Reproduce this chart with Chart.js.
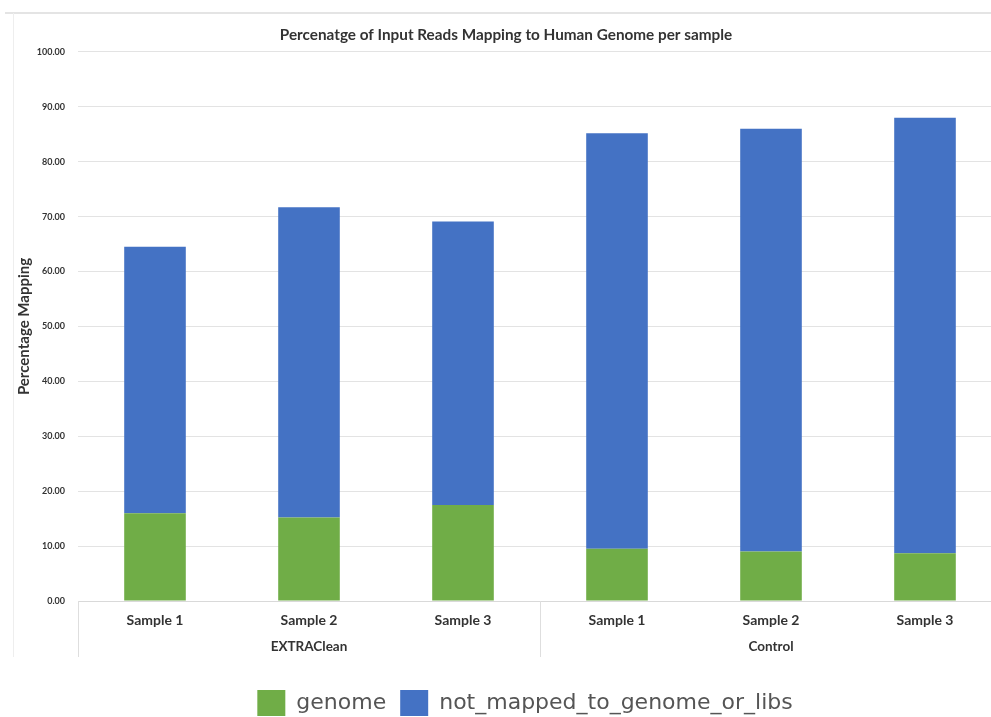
<!DOCTYPE html>
<html>
<head>
<meta charset="utf-8">
<script src="https://cdn.jsdelivr.net/npm/chart.js@4/dist/chart.umd.min.js"></script>
<style>
  html, body { margin: 0; padding: 0; background: #ffffff; }
  #wrap { width: 991px; height: 717px; overflow: hidden; position: relative; }
  #chart { display: block; }
</style>
</head>
<body>
<div id="wrap"><canvas id="chart" width="1012" height="726"></canvas></div>
<script>
// Sample names along the axis, two groups of three
const categories = ['Sample 1', 'Sample 2', 'Sample 3', 'Sample 1', 'Sample 2', 'Sample 3'];
// Group captions, each shown under the middle sample of its group
const groupLabels = ['', 'EXTRAClean', '', '', 'Control', ''];
// Percent of input reads per sample
const genome = [16.0, 15.2, 17.5, 9.5, 9.0, 8.7];
const notMapped = [48.5, 56.5, 51.6, 75.7, 77.0, 79.3];
// Value axis ticks
const yTicks = [0, 10, 20, 30, 40, 50, 60, 70, 80, 90, 100];

const GREEN = '#70AD47';
const BLUE = '#4472C4';
const TEXT = '#333333';
const FONT = 'Lato, "Open Sans", sans-serif';

// Light frame around the plot and the group separators under the axis
const frameAndGroups = {
  id: 'frameAndGroups',
  afterLayout(chart) {
    // the legend row sits a little right of the plot's centre
    if (chart.legend) {
      chart.legend.left += 19;
      chart.legend.right += 19;
    }
  },
  beforeDraw(chart) {
    const ctx = chart.ctx;
    ctx.save();
    ctx.strokeStyle = '#e4e4e4';
    ctx.lineWidth = 2;
    ctx.beginPath();
    ctx.moveTo(5, 13); ctx.lineTo(chart.width, 13);
    ctx.stroke();
    ctx.strokeStyle = '#eeeeee';
    ctx.lineWidth = 1;
    ctx.beginPath();
    ctx.moveTo(13.5, 13); ctx.lineTo(13.5, 657);
    ctx.stroke();
    ctx.restore();
  },
  afterDraw(chart) {
    const ctx = chart.ctx;
    const x = chart.scales.x;
    const area = chart.chartArea;
    const xs = [x.getPixelForValue(-0.5), x.getPixelForValue(2.5), x.getPixelForValue(5.5)];
    ctx.save();
    ctx.strokeStyle = '#dedede';
    ctx.lineWidth = 1;
    xs.forEach(px => {
      ctx.beginPath();
      ctx.moveTo(Math.round(px) + 0.5, area.bottom);
      ctx.lineTo(Math.round(px) + 0.5, 657);
      ctx.stroke();
    });
    ctx.restore();
  }
};

new Chart(document.getElementById('chart'), {
  type: 'bar',
  data: {
    labels: categories,
    datasets: [
      { label: 'genome', data: genome, backgroundColor: GREEN, borderWidth: 0,
        barPercentage: 0.4, categoryPercentage: 1.0 },
      { label: 'not_mapped_to_genome_or_libs', data: notMapped, backgroundColor: BLUE, borderWidth: 0,
        barPercentage: 0.4, categoryPercentage: 1.0 }
    ]
  },
  options: {
    responsive: false,
    animation: false,
    layout: { padding: { left: 10, right: 10, top: 0, bottom: 0 } },
    plugins: {
      title: {
        display: true,
        text: 'Percenatge of Input Reads Mapping to Human Genome per sample',
        color: TEXT,
        font: { family: FONT, size: 15.3, weight: 'bold' },
        padding: { top: 26, bottom: 7.6 }
      },
      legend: {
        position: 'bottom',
        labels: {
          boxWidth: 28,
          boxHeight: 26,
          padding: 14,
          color: '#555555',
          font: { family: '"DejaVu Sans", sans-serif', size: 22 }
        }
      },
      tooltip: { enabled: false }
    },
    scales: {
      x: {
        stacked: true,
        grid: { display: false, drawTicks: false },
        border: { display: true, color: '#d9d9d9' },
        ticks: { color: TEXT, padding: 11, maxRotation: 0,
                 font: { family: FONT, size: 14, weight: 'bold' } },
        afterFit(scale) { scale.height = 27; }
      },
      x2: {
        type: 'category',
        labels: groupLabels,
        position: 'bottom',
        offset: true,
        grid: { display: false, drawTicks: false },
        border: { display: false },
        ticks: { color: TEXT, padding: 11, maxRotation: 0, autoSkip: false,
                 font: { family: FONT, size: 13.5, weight: 'bold' } },
        afterFit(scale) { scale.height = 48; }
      },
      y: {
        stacked: true,
        min: 0,
        max: 100,
        afterBuildTicks(scale) { scale.ticks = yTicks.map(v => ({ value: v })); },
        grid: { color: '#e3e3e3', drawTicks: false },
        border: { display: false },
        ticks: { color: TEXT, padding: 13,
                 font: { family: FONT, size: 9, weight: 'bold' },
                 callback: v => Number(v).toFixed(2) },
        title: { display: true, text: 'Percentage Mapping', color: TEXT,
                 font: { family: FONT, size: 15, weight: 'bold' },
                 padding: { top: 5, bottom: 0 } },
        afterFit(scale) { scale.width = 68; }
      }
    }
  },
  plugins: [frameAndGroups]
});
</script>
</body>
</html>
